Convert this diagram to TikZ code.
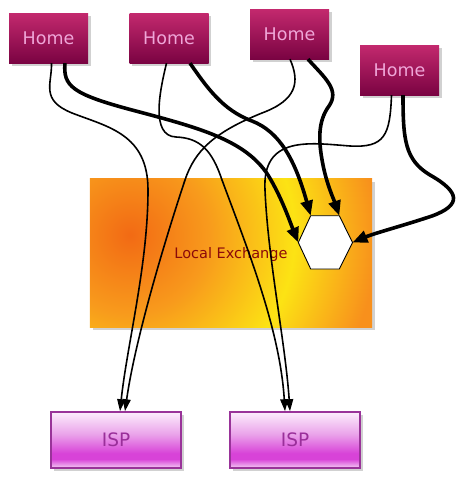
\documentclass[tikz,border=0pt]{standalone}
\usepackage{fontspec}
\setmainfont{DejaVu Sans}
\usetikzlibrary{arrows.meta,shadows}
\definecolor{homeT}{HTML}{C3296E}
\definecolor{homeB}{HTML}{7A0342}
\definecolor{homeTx}{HTML}{EFA6D8}
\definecolor{ispL}{HTML}{FCEDFC}
\definecolor{ispM}{HTML}{EAA2EA}
\definecolor{ispD}{HTML}{D843D8}
\definecolor{ispB}{HTML}{F3CDF3}
\definecolor{ispBorder}{HTML}{993399}
\definecolor{ispTx}{HTML}{9A2F9A}
\definecolor{leA}{HTML}{F26A14}
\definecolor{leB}{HTML}{F89A1C}
\definecolor{leC}{HTML}{FCE314}
\definecolor{leD}{HTML}{F8901C}
\definecolor{leTx}{HTML}{8B0A0A}
\pgfdeclareverticalshading{ispsh}{100bp}{color(0bp)=(ispB); color(25bp)=(ispB); color(33bp)=(ispD); color(38bp)=(ispD); color(55bp)=(ispM); color(75bp)=(ispL); color(100bp)=(ispL)}
\pgfdeclareradialshading{lexsh}{\pgfpoint{0bp}{0bp}}{color(0bp)=(leA); color(7bp)=(leB); color(14.7bp)=(leC); color(22bp)=(leD); color(25bp)=(leD); color(50bp)=(leD)}
\tikzset{
  boxshadow/.style={drop shadow={shadow xshift=2.5pt,shadow yshift=-2.5pt,fill=black,opacity=0.18}},
  home/.style={minimum width=79pt,minimum height=50pt,inner sep=0pt,top color=homeT,bottom color=homeB,
    text=homeTx,font=\fontsize{17.5}{19}\selectfont,boxshadow},
  isp/.style={minimum width=130pt,minimum height=56pt,inner sep=0pt,shading=ispsh,draw=ispBorder,line width=1.6pt,
    text=ispTx,font=\fontsize{18.5}{20}\selectfont,boxshadow},
  lebox/.style={minimum width=282pt,minimum height=148pt,inner sep=0pt,fill=leD,boxshadow},
  thinarrow/.style={line width=1.6pt,-{Triangle[length=12pt,width=8pt]}},
  thickarrow/.style={line width=3.6pt,-{Triangle[length=15pt,width=12pt]}},
}
\begin{document}
\begin{tikzpicture}[x=1pt,y=-1pt]
\useasboundingbox (0,0) rectangle (469,482);
% local exchange
\node[lebox] (le) at (231,253) {};
\begin{scope}
  \clip (le.south west) rectangle (le.north east);
  \shade[shading=lexsh] (130,235) circle (280pt);
\end{scope}
\node[text=leTx,font=\fontsize{14.5}{16}\selectfont] (lelabel) at (231,254) {Local Exchange};
% hexagon
\coordinate (hl) at (298.3,242.5);
\coordinate (htl) at (310.7,215.7);
\coordinate (htr) at (339.3,215.7);
\coordinate (hr) at (352.5,242.5);
\coordinate (hbr) at (339.3,269);
\coordinate (hbl) at (310.7,269);
\draw[fill=white,line width=0.9pt] (hl) -- (htl) -- (htr) -- (hr) -- (hbr) -- (hbl) -- cycle;
% homes
\node[home] (h1) at (48.5,38) {Home};
\node[home] (h2) at (169,38) {Home};
\node[home] (h3) at (289.5,34) {Home};
\node[home] (h4) at (399.5,70) {Home};
% isps
\node[isp] (i1) at (116,440) {ISP};
\node[isp] (i2) at (295,440) {ISP};
% thin connectors to ISPs
\draw[thinarrow] ([xshift=3pt]h1.south) .. controls (52,84) and (40,100) .. (72,113)
  .. controls (108,127) and (148,134) .. (148,190) .. controls (148,265) and (127,345) .. ([xshift=4pt]i1.north);
\draw[thinarrow] ([xshift=-2.5pt]h2.south) .. controls (160,90) and (150,136) .. (176,137)
  .. controls (200,138) and (212,150) .. (222,180) .. controls (248,250) and (280,330) .. ([xshift=-10pt]i2.north);
\draw[thinarrow] ([xshift=0.5pt]h3.south) .. controls (300,82) and (297,100) .. (262,113)
  .. controls (215,132) and (195,150) .. (185,180) .. controls (165,240) and (135,340) .. ([xshift=9pt]i1.north);
\draw[thinarrow] ([xshift=-8pt]h4.south) .. controls (390,135) and (385,148) .. (350,146)
  .. controls (310,143) and (262,135) .. (265,190) .. controls (268,260) and (285,340) .. ([xshift=-5pt]i2.north);
% thick connectors to hexagon
\draw[thickarrow] ([xshift=16.5pt]h1.south) .. controls (63,86) and (72,94) .. (132,110)
  .. controls (200,128) and (245,140) .. (268,175) .. controls (282,198) and (290,222) .. (hl);
\draw[thickarrow] ([xshift=21pt]h2.south) .. controls (206,86) and (222,110) .. (252,121)
  .. controls (280,132) and (295,160) .. (htl);
\draw[thickarrow] ([xshift=18.5pt]h3.south) .. controls (325,78) and (340,90) .. (329,106)
  .. controls (318,121) and (318,140) .. (323,165) .. controls (327,185) and (334,200) .. (htr);
\draw[thickarrow] ([xshift=3.5pt]h4.south) .. controls (403,140) and (405,160) .. (430,175)
  .. controls (460,192) and (462,205) .. (432,216) .. controls (402,226) and (375,233) .. (hr);
\end{tikzpicture}
\end{document}
